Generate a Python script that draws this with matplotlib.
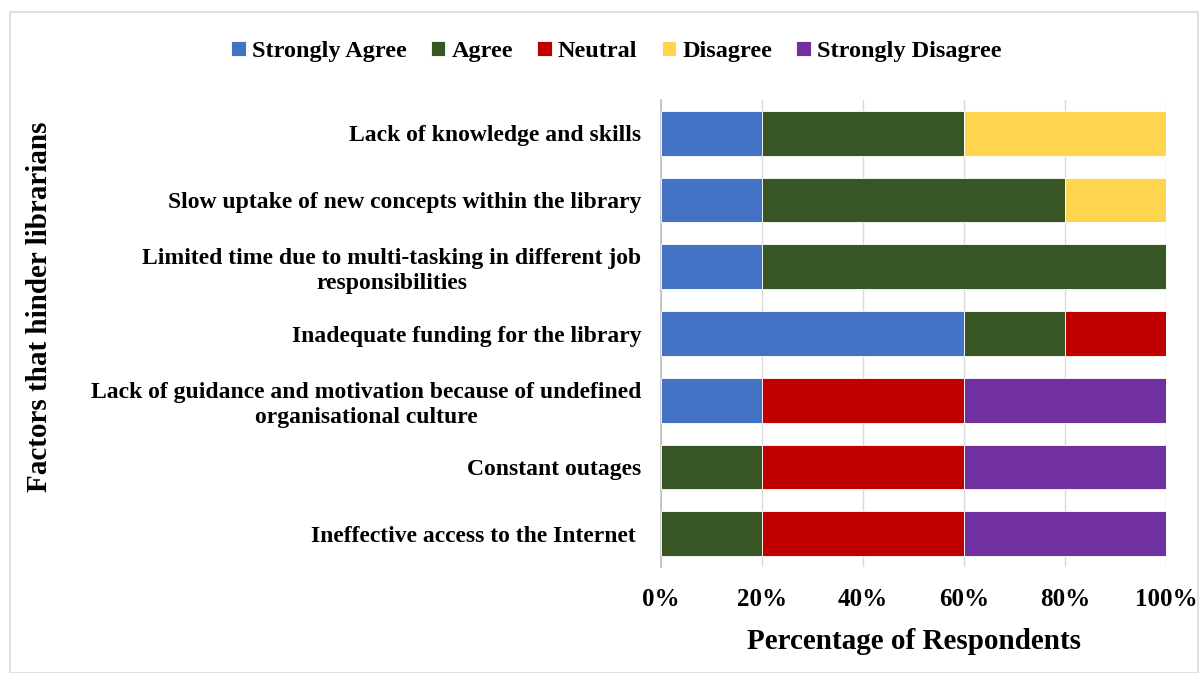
import numpy as np
import matplotlib
matplotlib.use('Agg')
import matplotlib.pyplot as plt
from matplotlib.patches import Rectangle

plt.rcParams['font.family'] = ['Liberation Serif', 'DejaVu Serif']
plt.rcParams['font.weight'] = 'bold'

factors = [
    'Lack of knowledge and skills',
    'Slow uptake of new concepts within the library',
    'Limited time due to multi-tasking in different job\nresponsibilities',
    'Inadequate funding for the library',
    'Lack of guidance and motivation because of undefined\norganisational culture',
    'Constant outages',
    'Ineffective access to the Internet ',
]
levels = ['Strongly Agree', 'Agree', 'Neutral', 'Disagree', 'Strongly Disagree']
strongly_agree = [0.2, 0.2, 0.2, 0.6, 0.2, 0.0, 0.0]
agree = [0.4, 0.6, 0.8, 0.2, 0.0, 0.2, 0.2]
neutral = [0.0, 0.0, 0.0, 0.2, 0.4, 0.4, 0.4]
disagree = [0.4, 0.2, 0.0, 0.0, 0.0, 0.0, 0.0]
strongly_disagree = [0.0, 0.0, 0.0, 0.0, 0.4, 0.4, 0.4]
colors = ['#4472C4', '#375623', '#C00000', '#FFD54F', '#7030A0']

fig = plt.figure(figsize=(11.99, 6.73), dpi=100)
ax = fig.add_axes([0.5513, 0.1575, 0.4212, 0.6939])

series = [strongly_agree, agree, neutral, disagree, strongly_disagree]
y = np.arange(len(factors))
left = np.zeros(len(factors))
for lab, vals, c in zip(levels, series, colors):
    vals = np.array(vals)
    ax.barh(y, vals, left=left, height=0.67, color=c, label=lab,
            edgecolor='white', linewidth=0.6, zorder=3)
    left += vals

ax.set_xlim(0, 1)
ax.set_ylim(len(factors) - 0.5, -0.5)
ax.set_yticks(y)
ax.set_yticklabels(factors, fontsize=17, fontweight='bold', multialignment='center',
                   linespacing=1.25)
ax.set_xticks(np.linspace(0, 1, 6))
ax.set_xticklabels(['0%', '20%', '40%', '60%', '80%', '100%'], fontsize=18, fontweight='bold')
ax.tick_params(axis='y', length=0, pad=14)
ax.tick_params(axis='x', length=0, pad=15)
ax.grid(axis='x', color='#D9D9D9', linewidth=1, zorder=0)
for s in ['top', 'right', 'bottom']:
    ax.spines[s].set_visible(False)
ax.spines['left'].set_color('#BFBFBF')
ax.spines['left'].set_linewidth(1.2)

ax.set_xlabel('Percentage of Respondents', fontsize=21, fontweight='bold', labelpad=12)
fig.text(0.033, 0.544, 'Factors that hinder librarians', rotation=90, fontsize=21,
         fontweight='bold', ha='center', va='center')

fig.legend(loc='center', bbox_to_anchor=(0.514, 0.924), ncol=5, frameon=False,
           handlelength=0.6, handleheight=0.6, handletextpad=0.25,
           columnspacing=1.0, prop={'weight': 'bold', 'size': 17.5})

fig.patches.append(Rectangle((10 / 1199, 0), 1 - 11 / 1199, 1 - 12 / 673,
                             transform=fig.transFigure, fill=False,
                             edgecolor='#D9D9D9', linewidth=1.2))

fig.savefig('out.png', dpi=100)
